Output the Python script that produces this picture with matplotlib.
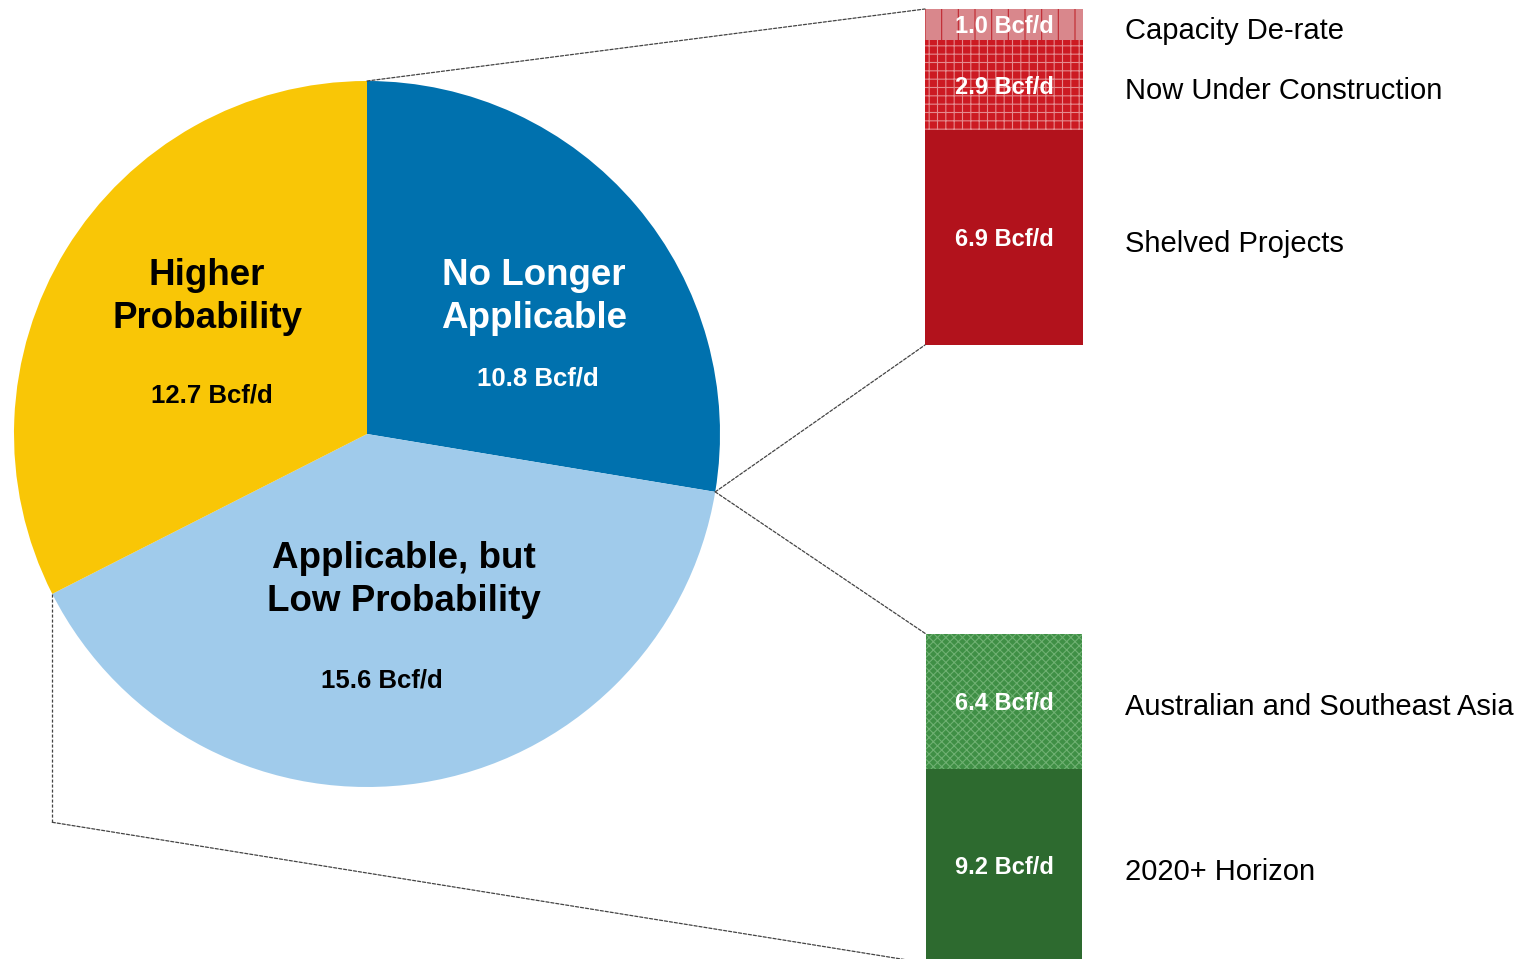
import matplotlib.pyplot as plt
from matplotlib.patches import ConnectionPatch
from matplotlib.transforms import blended_transform_factory, offset_copy
import numpy as np

plt.rcParams["font.family"] = ["Liberation Sans", "DejaVu Sans"]
plt.rcParams["hatch.linewidth"] = 0.8

# pie: LNG supply outlook split (Bcf/d)
pie_labels = ["No Longer\nApplicable", "Applicable, but\nLow Probability", "Higher\nProbability"]
pie_values = [10.8, 15.6, 12.7]
pie_colors = ["#0071AE", "#A0CBEB", "#F9C606"]
pie_text_colors = ["white", "black", "black"]

# breakdown of "No Longer Applicable" (bottom to top)
red_labels = ["Shelved Projects", "Now Under Construction", "Capacity De-rate"]
red_values = [6.9, 2.9, 1.0]
red_colors = ["#B2121C", "#CC1A22", "#D9878C"]
red_hatch_colors = ["#B2121C", "#E58A8E", "#C0262E"]
red_hatches = [None, "++", "|"]

# breakdown of "Applicable, but Low Probability" (bottom to top)
green_labels = ["2020+ Horizon", "Australian and Southeast Asia"]
green_values = [9.2, 6.4]
green_colors = ["#2D6A2F", "#3F8F45"]
green_hatch_colors = ["#2D6A2F", "#6FB072"]
green_hatches = [None, "xxxx"]

W, H = 1526, 959
fig = plt.figure(figsize=(W / 100, H / 100), dpi=100)


def px_axes(left, top, width, height):
    return fig.add_axes([left / W, (H - top - height) / H, width / W, height / H])


# ---- pie ----
ax_pie = px_axes(14, 81, 706, 706)
wedges, _ = ax_pie.pie(pie_values, colors=pie_colors, startangle=90,
                       counterclock=False, radius=1,
                       wedgeprops=dict(linewidth=0))
ax_pie.set_xlim(-1, 1)
ax_pie.set_ylim(-1, 1)
ax_pie.set_aspect("equal")
ax_pie.axis("off")

title_pos = [(0.473, 0.388), (0.105, -0.414), (-0.453, 0.388)]
value_pos = [(0.484, 0.156), (0.042, -0.697), (-0.439, 0.108)]
for lab, val, tc, tp, vp in zip(pie_labels, pie_values, pie_text_colors,
                                title_pos, value_pos):
    ax_pie.text(*tp, lab, ha="center", va="center", fontsize=26.5,
                fontweight="bold", color=tc, linespacing=1.32)
    ax_pie.text(*vp, f"{val:.1f} Bcf/d", ha="center", va="center",
                fontsize=18.5, fontweight="bold", color=tc)

total = sum(pie_values)
ang1 = np.deg2rad(90 - 360 * pie_values[0] / total)
ang2 = np.deg2rad(90 - 360 * (pie_values[0] + pie_values[1]) / total)
p_top = (0.0, 1.0)
p_b1 = (np.cos(ang1), np.sin(ang1))
p_b2 = (np.cos(ang2), np.sin(ang2))


# ---- stacked bars ----
def stacked_bar(ax, values, colors, hatch_colors, hatches, labels):
    bottom = 0
    side = blended_transform_factory(fig.transFigure, ax.transData)
    side = offset_copy(side, fig=fig, y=-6, units="dots")
    inner = offset_copy(ax.transData, fig=fig, y=-2, units="dots")
    for v, c, hc, h, lab in zip(values, colors, hatch_colors, hatches, labels):
        ax.bar(0.5, v, width=1, bottom=bottom, color=c, edgecolor=hc,
               hatch=h, linewidth=0)
        mid = bottom + v / 2
        ax.text(0.5, mid, f"{v:.1f} Bcf/d", transform=inner, ha="center",
                va="center", fontsize=17, fontweight="bold", color="white")
        ax.text(1125 / W, mid, lab, transform=side, ha="left", va="center",
                fontsize=21, color="black")
        bottom += v
    ax.set_xlim(0, 1)
    ax.set_ylim(0, sum(values))
    ax.axis("off")


ax_red = px_axes(925, 9, 158, 336)
stacked_bar(ax_red, red_values, red_colors, red_hatch_colors, red_hatches, red_labels)

ax_green = px_axes(926, 634, 156, 329)
stacked_bar(ax_green, green_values, green_colors, green_hatch_colors,
            green_hatches, green_labels)

# ---- dashed connectors ----
line_kw = dict(color="#444444", linewidth=0.9, linestyle=(0, (2.5, 1.5)))


def connect(pa, axa, pb, axb):
    con = ConnectionPatch(xyA=pa, coordsA=axa.transData,
                          xyB=pb, coordsB=axb.transData, **line_kw)
    fig.add_artist(con)


connect(p_top, ax_pie, (0, sum(red_values)), ax_red)
connect(p_b1, ax_pie, (0, 0), ax_red)
connect(p_b1, ax_pie, (0, sum(green_values)), ax_green)

p_corner = (p_b2[0], -1.1)
ax_pie.plot([p_b2[0], p_corner[0]], [p_b2[1], p_corner[1]], clip_on=False, **line_kw)
connect(p_corner, ax_pie, (0, 0), ax_green)

fig.savefig("out.png", dpi=100)
